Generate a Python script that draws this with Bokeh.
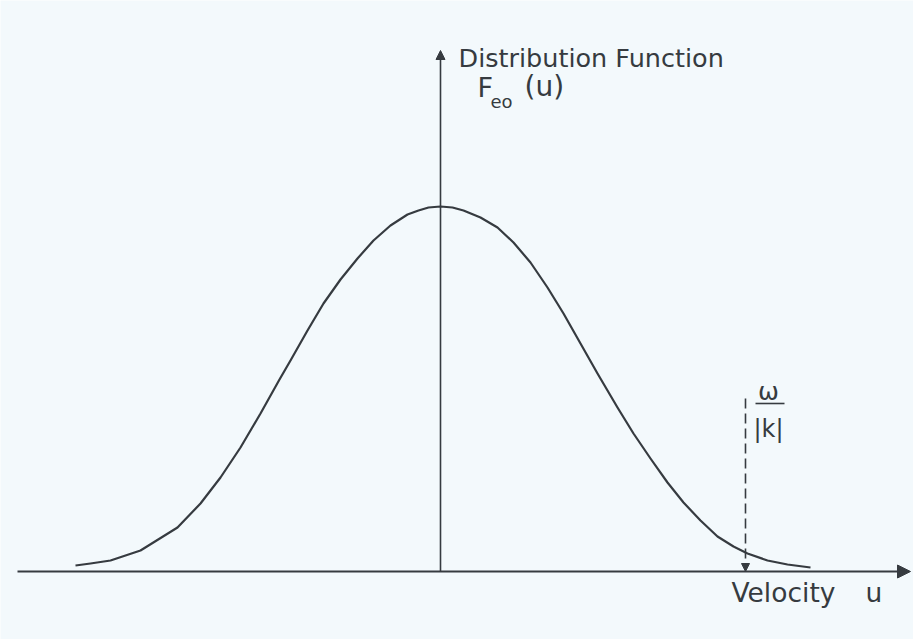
from bokeh.plotting import figure
from bokeh.models import Range1d, Arrow, NormalHead, Label, ColumnDataSource
from bokeh.embed import file_html
from bokeh.resources import INLINE

# Equilibrium electron distribution F_eo(u) sampled along the velocity axis
velocity = [-3.65, -3.50, -3.30, -3.00, -2.63, -2.40, -2.20, -2.00, -1.80, -1.61,
            -1.50, -1.33, -1.17, -1.00, -0.83, -0.67, -0.50, -0.33, -0.22, -0.12,
            0.00, 0.12, 0.23, 0.40, 0.57, 0.73, 0.90, 1.07, 1.23, 1.40,
            1.57, 1.77, 1.93, 2.10, 2.27, 2.43, 2.60, 2.77, 2.93, 3.07,
            3.27, 3.47, 3.70]
distribution = [0.06, 0.08, 0.11, 0.21, 0.44, 0.68, 0.94, 1.24, 1.58, 1.92,
                2.11, 2.41, 2.68, 2.92, 3.13, 3.31, 3.46, 3.57, 3.61, 3.64,
                3.65, 3.64, 3.61, 3.54, 3.44, 3.29, 3.09, 2.84, 2.58, 2.28,
                1.98, 1.64, 1.38, 1.13, 0.89, 0.69, 0.51, 0.35, 0.25, 0.18,
                0.11, 0.07, 0.04]

# Phase velocity of the wave, omega/|k|
phase_velocity = 3.05

y_axis_title = "Distribution Function"
x_axis_title = "Velocity"

INK = "#363b40"
PAPER = "#f3f9fc"
FONT = "DejaVu Sans"

p = figure(width=913, height=639, output_backend="svg", toolbar_location=None,
           x_range=Range1d(-4.40, 4.73), y_range=Range1d(-0.68, 5.71),
           min_border=0, min_border_left=0, min_border_right=0,
           min_border_top=0, min_border_bottom=0)
p.axis.visible = False
p.grid.visible = False
p.outline_line_color = None
p.background_fill_color = PAPER
p.border_fill_color = PAPER

# Velocity axis and distribution axis with arrowheads
p.add_layout(Arrow(x_start=-4.23, y_start=0, x_end=4.70, y_end=0,
                   line_color=INK, line_width=2,
                   end=NormalHead(size=13, fill_color=INK, line_color=INK)))
p.add_layout(Arrow(x_start=0, y_start=0, x_end=0, y_end=5.21,
                   line_color=INK, line_width=1.6,
                   end=NormalHead(size=9, fill_color=INK, line_color=INK)))

# The distribution curve
src = ColumnDataSource(dict(u=velocity, f=distribution))
p.line("u", "f", source=src, line_color=INK, line_width=2.2, line_join="round")

# Dashed marker at the phase velocity
p.add_layout(Arrow(x_start=phase_velocity, y_start=1.73, x_end=phase_velocity, y_end=0.0,
                   line_color=INK, line_width=1.6, line_dash="10 5",
                   end=NormalHead(size=8, fill_color=INK, line_color=INK)))

# omega / |k| label
p.add_layout(Label(x=3.28, y=1.80, text="ω", text_align="center", text_baseline="middle",
                   text_font=FONT, text_font_size="25px", text_color=INK))
p.segment(x0=[3.15], y0=[1.68], x1=[3.44], y1=[1.68], line_color=INK, line_width=1.6)
p.add_layout(Label(x=3.28, y=1.43, text="|k|", text_align="center", text_baseline="middle",
                   text_font=FONT, text_font_size="24px", text_color=INK))

# Axis titles
p.add_layout(Label(x=0.18, y=4.99, text=y_axis_title, text_font=FONT,
                   text_font_size="25.5px", text_color=INK))
p.add_layout(Label(x=0.37, y=4.69, text="F", text_font=FONT,
                   text_font_size="27px", text_color=INK))
p.add_layout(Label(x=0.50, y=4.60, text="eo", text_font=FONT,
                   text_font_size="18px", text_color=INK))
p.add_layout(Label(x=0.84, y=4.69, text="(u)", text_font=FONT,
                   text_font_size="28px", text_color=INK))

p.add_layout(Label(x=2.91, y=-0.36, text=x_axis_title, text_font=FONT,
                   text_font_size="26.5px", text_color=INK))
p.add_layout(Label(x=4.25, y=-0.36, text="u", text_font=FONT,
                   text_font_size="26.5px", text_color=INK))

open("out.html", "w").write(file_html(p, INLINE))
